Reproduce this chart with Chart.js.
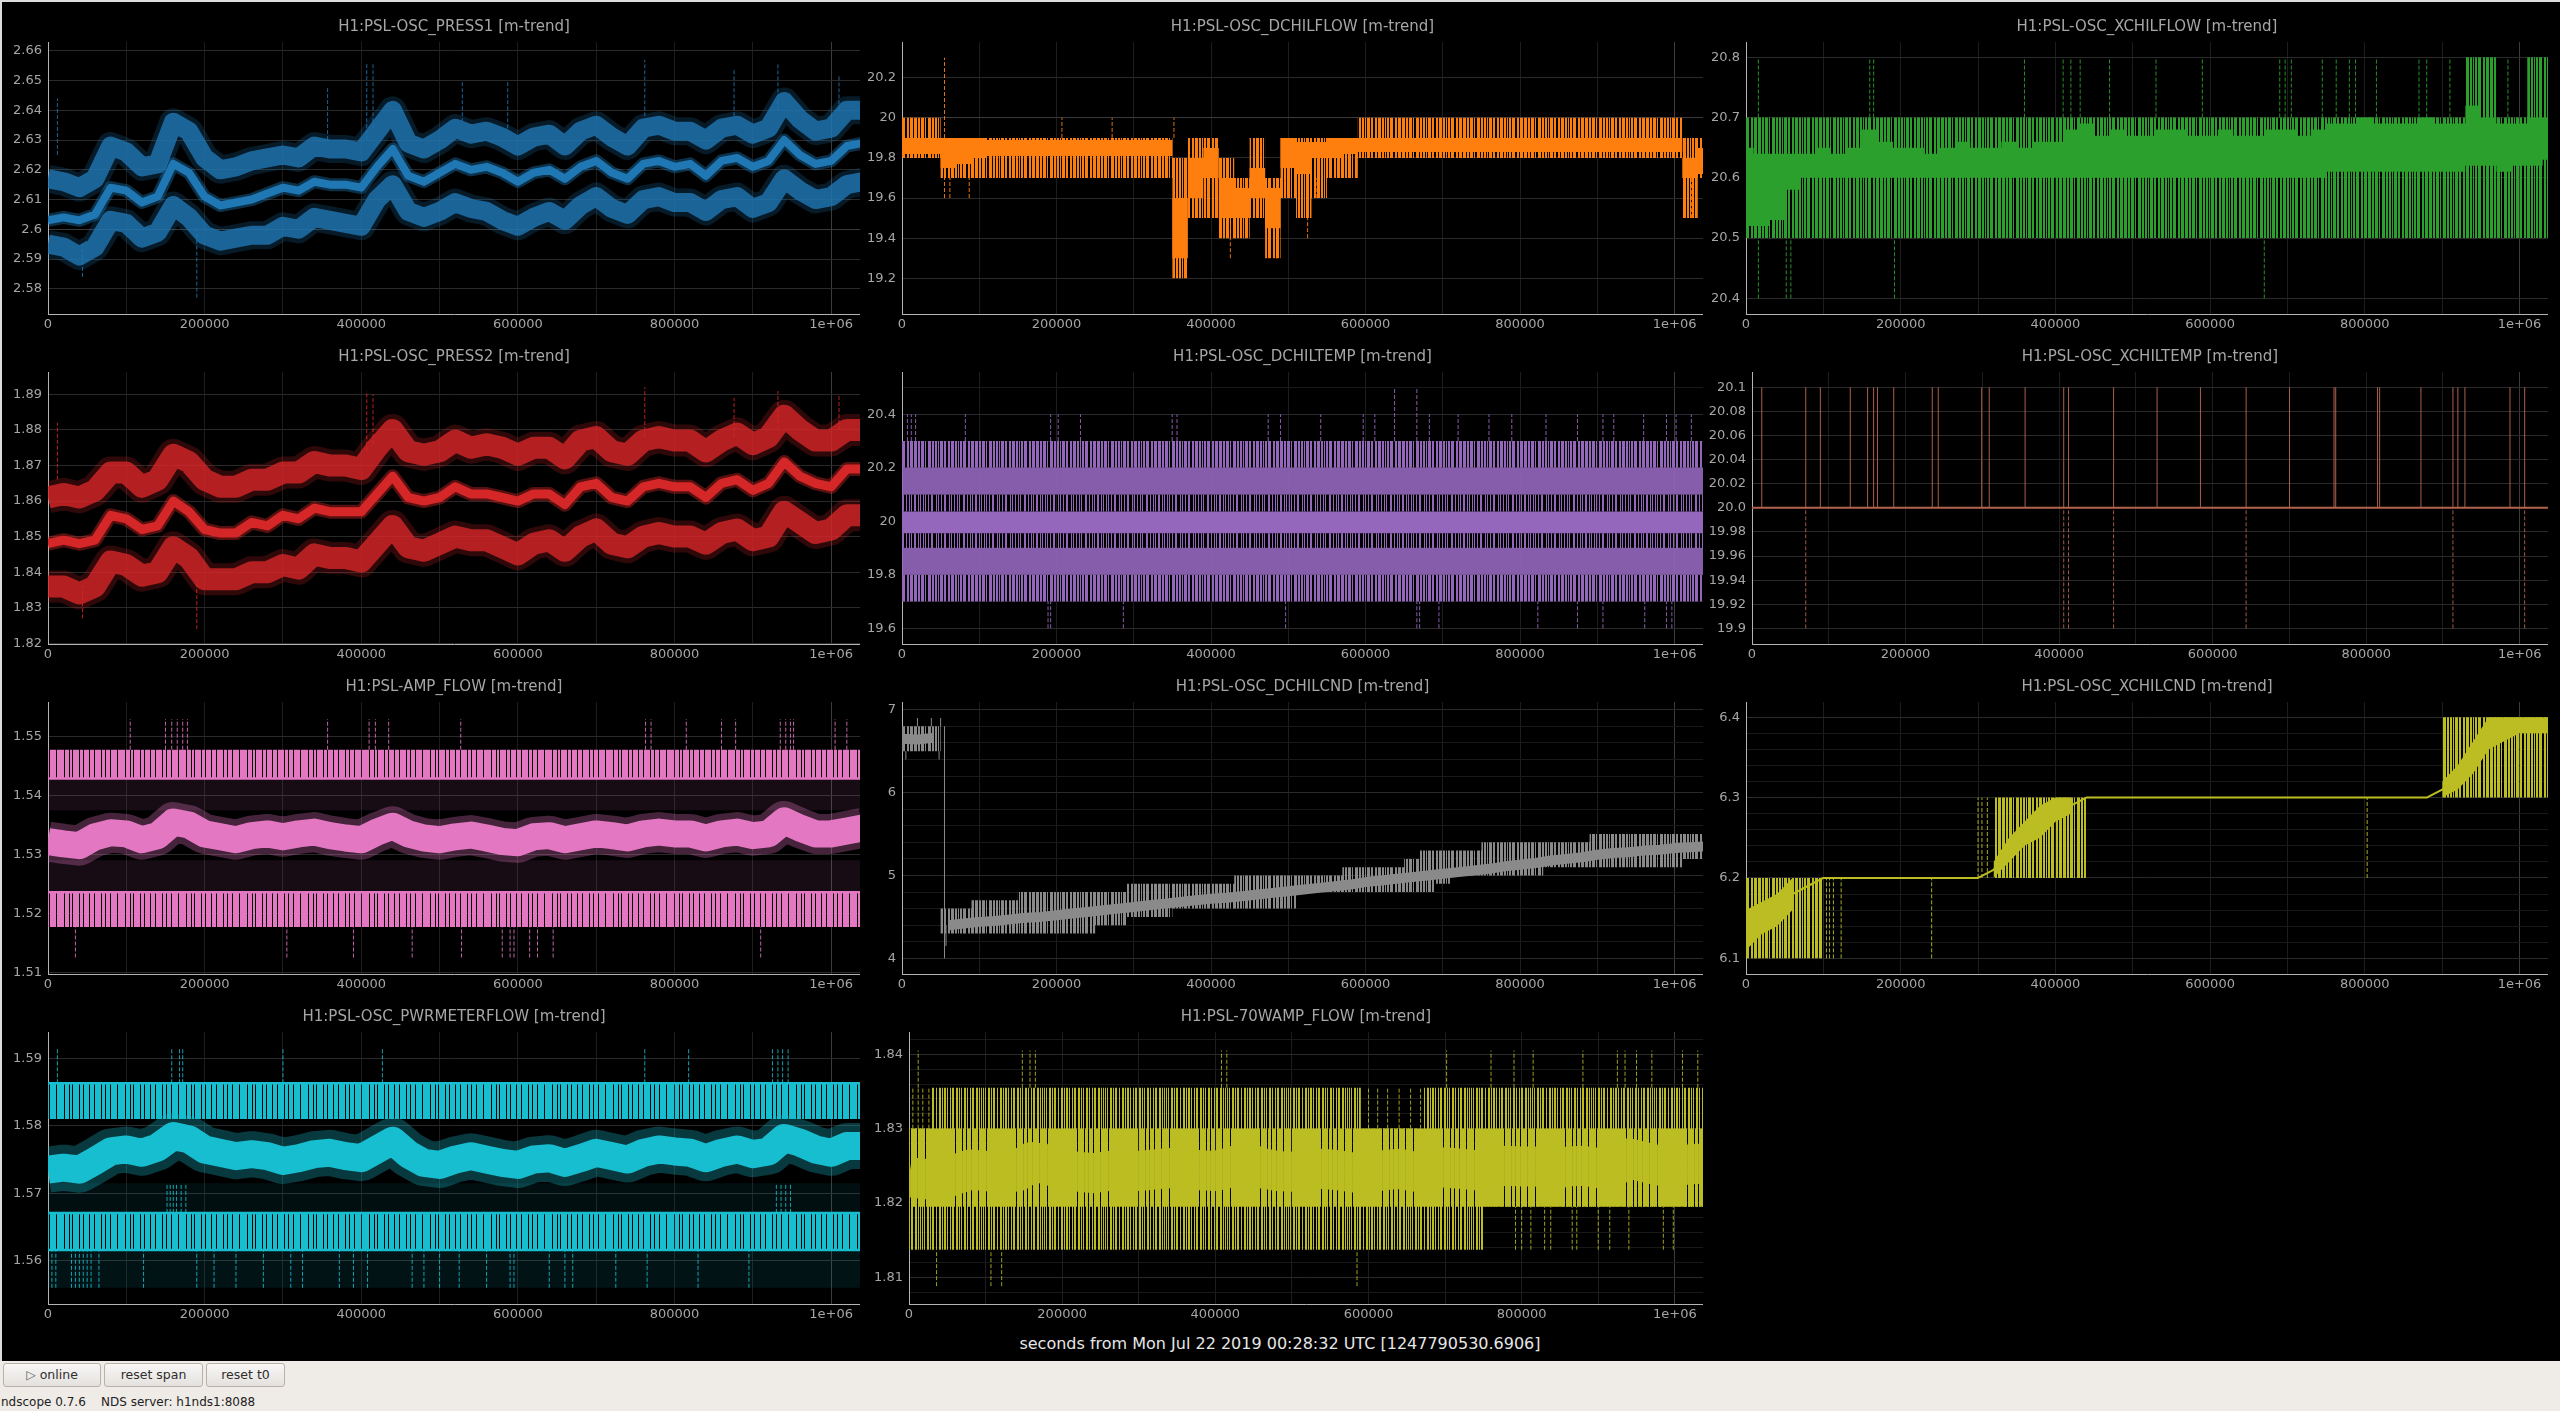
<!DOCTYPE html>
<html><head><meta charset="utf-8">
<script src="https://cdn.jsdelivr.net/npm/chart.js@4.4.1/dist/chart.umd.min.js"></script>
<style>
html,body{margin:0;padding:0;background:#000;width:2560px;height:1411px;overflow:hidden;position:relative;font-family:"DejaVu Sans",sans-serif}
canvas{position:absolute}
#frameTop{position:absolute;left:0;top:0;width:2560px;height:2px;background:#dcdcdc}
#frameLeft{position:absolute;left:0;top:0;width:2px;height:1361px;background:#dcdcdc}
#xlabel{position:absolute;left:0;width:2560px;top:1334px;text-align:center;color:#e6e6e6;font-size:16px;line-height:20px}
#toolbar{position:absolute;left:0;top:1361px;width:2560px;height:50px;background:#efebe7}
.btn{position:absolute;top:2px;height:24px;box-sizing:border-box;border:1px solid #b8b2ab;border-radius:3px;background:linear-gradient(#f8f7f6,#e4e1dd);font-size:12.5px;color:#2e2e2e;text-align:center;line-height:22px}
#status{position:absolute;left:1px;top:34px;font-size:12px;line-height:14px;color:#222;white-space:pre}
</style></head>
<body>
<div id="frameTop"></div><div id="frameLeft"></div>
<div id="xlabel">seconds from Mon Jul 22 2019 00:28:32 UTC [1247790530.6906]</div>
<div id="toolbar">
  <div class="btn" style="left:3px;width:98px"><span style="color:#666">&#9655;</span> online</div>
  <div class="btn" style="left:104px;width:99px">reset span</div>
  <div class="btn" style="left:206px;width:79px">reset t0</div>
  <div id="status">ndscope 0.7.6    NDS server: h1nds1:8088</div>
</div>
<script>
// ---------------- time axes ----------------
const tBins = [0,20000,40000,60000,80000,100000,120000,140000,160000,180000,
  200000,220000,240000,260000,280000,300000,320000,340000,360000,380000,
  400000,420000,440000,460000,480000,500000,520000,540000,560000,580000,
  600000,620000,640000,660000,680000,700000,720000,740000,760000,780000,
  800000,820000,840000,860000,880000,900000,920000,940000,960000,980000,
  1000000,1020000,1040000];
const tEnds = [0, 1040000];
const xTickValues = [0,100000,200000,300000,400000,500000,600000,700000,800000,900000,1000000];
const xTickLabels = ['0','','200000','','400000','','600000','','800000','','1e+06'];

// ---------------- PSL-OSC_PRESS1 ----------------
const press1Mean = [2.603,2.604,2.603,2.605,2.614,2.613,2.609,2.611,2.622,2.619,
  2.611,2.608,2.609,2.610,2.612,2.614,2.613,2.616,2.615,2.615,
  2.614,2.621,2.627,2.618,2.616,2.619,2.622,2.620,2.621,2.619,
  2.616,2.619,2.620,2.617,2.621,2.623,2.619,2.617,2.622,2.623,
  2.621,2.622,2.618,2.623,2.624,2.621,2.623,2.630,2.625,2.622,
  2.623,2.628,2.629];
const press1Max = [2.617,2.616,2.614,2.617,2.628,2.626,2.621,2.622,2.636,2.633,
  2.624,2.620,2.621,2.623,2.624,2.625,2.624,2.628,2.627,2.627,
  2.626,2.633,2.640,2.629,2.627,2.630,2.634,2.632,2.633,2.631,
  2.628,2.631,2.632,2.628,2.633,2.635,2.631,2.628,2.634,2.635,
  2.633,2.633,2.630,2.634,2.635,2.632,2.634,2.643,2.637,2.633,
  2.634,2.640,2.640];
const press1Min = [2.595,2.594,2.591,2.594,2.603,2.602,2.597,2.599,2.608,2.604,
  2.598,2.596,2.597,2.598,2.598,2.601,2.600,2.604,2.603,2.602,
  2.601,2.610,2.615,2.606,2.604,2.606,2.609,2.607,2.606,2.603,
  2.601,2.604,2.606,2.603,2.608,2.611,2.607,2.605,2.610,2.611,
  2.609,2.609,2.606,2.610,2.611,2.607,2.609,2.617,2.613,2.610,
  2.611,2.615,2.616];
const press1Spikes = [[12000,2.625,2.644],[44000,2.584,2.595],[190000,2.577,2.600],[357000,2.630,2.648],
  [407000,2.630,2.656],[415000,2.634,2.656],[529000,2.636,2.650],[587000,2.634,2.650],
  [762000,2.638,2.657],[876000,2.638,2.654],[932000,2.640,2.656],[1010000,2.640,2.652]];
const press1YTicks = [2.58,2.59,2.6,2.61,2.62,2.63,2.64,2.65,2.66];
const press1YLabels = ['2.58','2.59','2.6','2.61','2.62','2.63','2.64','2.65','2.66'];

// ---------------- PSL-OSC_PRESS2 ----------------
const press2Mean = [1.848,1.849,1.848,1.849,1.856,1.855,1.852,1.853,1.860,1.857,
  1.852,1.851,1.851,1.854,1.853,1.856,1.855,1.858,1.857,1.857,
  1.857,1.862,1.867,1.861,1.860,1.861,1.864,1.862,1.862,1.861,
  1.860,1.862,1.862,1.859,1.864,1.865,1.861,1.860,1.864,1.865,
  1.864,1.864,1.861,1.865,1.866,1.863,1.865,1.871,1.867,1.865,
  1.864,1.869,1.869];
const press2Max = [1.861,1.862,1.861,1.863,1.868,1.868,1.864,1.866,1.873,1.871,
  1.866,1.864,1.864,1.866,1.866,1.868,1.868,1.871,1.870,1.870,
  1.869,1.875,1.880,1.874,1.873,1.874,1.877,1.875,1.876,1.875,
  1.873,1.875,1.875,1.872,1.877,1.878,1.874,1.873,1.877,1.878,
  1.877,1.877,1.874,1.877,1.879,1.876,1.878,1.884,1.880,1.877,
  1.877,1.880,1.880];
const press2Min = [1.836,1.836,1.834,1.836,1.843,1.842,1.839,1.840,1.847,1.844,
  1.838,1.838,1.838,1.840,1.840,1.842,1.841,1.845,1.844,1.844,
  1.843,1.848,1.853,1.847,1.846,1.848,1.850,1.849,1.849,1.847,
  1.845,1.848,1.849,1.846,1.850,1.852,1.848,1.847,1.850,1.851,
  1.850,1.850,1.848,1.851,1.852,1.849,1.850,1.857,1.854,1.851,
  1.852,1.856,1.856];
const press2Spikes = [[12000,1.866,1.882],[44000,1.827,1.836],[190000,1.824,1.838],[407000,1.874,1.891],
  [415000,1.876,1.890],[762000,1.878,1.892],[876000,1.878,1.889],[932000,1.880,1.891],[1010000,1.880,1.890]];
const press2YTicks = [1.82,1.83,1.84,1.85,1.86,1.87,1.88,1.89];
const press2YLabels = ['1.82','1.83','1.84','1.85','1.86','1.87','1.88','1.89'];

// ---------------- PSL-OSC_DCHILFLOW ----------------
const dflOuterLo = [19.8,19.8,19.8,19.7,19.7,19.7,19.7,19.7,19.7,19.7,
  19.7,19.7,19.7,19.7,19.7,19.7,19.7,19.7,19.2,19.5,
  19.5,19.4,19.4,19.5,19.3,19.6,19.5,19.6,19.7,19.7,
  19.8,19.8,19.8,19.8,19.8,19.8,19.8,19.8,19.8,19.8,
  19.8,19.8,19.8,19.8,19.8,19.8,19.8,19.8,19.8,19.8,
  19.8,19.5,19.7];
const dflOuterHi = [20,20,20,19.9,19.9,19.9,19.9,19.9,19.9,19.9,
  19.9,19.9,19.9,19.9,19.9,19.9,19.9,19.9,19.8,19.9,
  19.9,19.8,19.7,19.9,19.7,19.9,19.9,19.9,19.9,19.9,
  20,20,20,20,20,20,20,20,20,20,
  20,20,20,20,20,20,20,20,20,20,
  20,19.9,19.9];
const dflCoreLo = [19.82,19.82,19.82,19.75,19.77,19.8,19.81,19.81,19.81,19.81,
  19.81,19.81,19.81,19.81,19.81,19.81,19.81,19.81,19.3,19.6,
  19.7,19.5,19.5,19.6,19.45,19.75,19.72,19.8,19.8,19.82,
  19.83,19.83,19.83,19.83,19.83,19.83,19.83,19.83,19.83,19.83,
  19.83,19.83,19.83,19.83,19.83,19.83,19.83,19.83,19.83,19.83,
  19.83,19.7,19.72];
const dflCoreHi = [19.9,19.9,19.9,19.9,19.9,19.9,19.89,19.89,19.89,19.89,
  19.89,19.89,19.89,19.89,19.89,19.89,19.89,19.89,19.6,19.8,
  19.85,19.7,19.65,19.75,19.65,19.9,19.88,19.88,19.9,19.9,
  19.9,19.9,19.9,19.9,19.9,19.9,19.9,19.9,19.9,19.9,
  19.9,19.9,19.9,19.9,19.9,19.9,19.9,19.9,19.9,19.9,
  19.9,19.8,19.85];
const dflSpikes = [[55000,19.6,20.3],[62000,19.6,19.7],[87000,19.6,19.7],[207000,19.9,20.0],[272000,19.9,20.0],
  [352000,19.9,20.0],[425000,19.3,19.45],[485000,19.3,19.4],[525000,19.4,19.5],[537000,19.6,19.7],
  [1017000,19.5,19.7],[1022000,19.5,19.7]];
const dflYTicks = [19.2,19.4,19.6,19.8,20,20.2];
const dflYLabels = ['19.2','19.4','19.6','19.8','20','20.2'];

// ---------------- PSL-OSC_XCHILFLOW ----------------
const xflOuterLo = [20.5,20.5,20.5,20.5,20.5,20.5,20.5,20.5,20.5,20.5,
  20.5,20.5,20.5,20.5,20.5,20.5,20.5,20.5,20.5,20.5,
  20.5,20.5,20.5,20.5,20.5,20.5,20.5,20.5,20.5,20.5,
  20.5,20.5,20.5,20.5,20.5,20.5,20.5,20.5,20.5,20.5,
  20.5,20.5,20.5,20.5,20.5,20.5,20.5,20.5,20.5,20.5,
  20.5,20.5,20.5];
const xflOuterHi = [20.7,20.7,20.7,20.7,20.7,20.7,20.7,20.7,20.7,20.7,
  20.7,20.7,20.7,20.7,20.7,20.7,20.7,20.7,20.7,20.7,
  20.7,20.7,20.7,20.7,20.7,20.7,20.7,20.7,20.7,20.7,
  20.7,20.7,20.7,20.7,20.7,20.7,20.7,20.7,20.7,20.7,
  20.7,20.7,20.7,20.7,20.7,20.7,20.7,20.8,20.8,20.7,
  20.7,20.8,20.8];
const xflCoreLo = [20.52,20.52,20.53,20.58,20.6,20.6,20.6,20.6,20.6,20.6,
  20.6,20.6,20.6,20.6,20.6,20.6,20.6,20.6,20.6,20.6,
  20.6,20.6,20.6,20.6,20.6,20.6,20.6,20.6,20.6,20.6,
  20.6,20.6,20.6,20.6,20.6,20.6,20.6,20.6,20.61,20.61,
  20.61,20.61,20.61,20.61,20.61,20.61,20.61,20.62,20.62,20.61,
  20.62,20.62,20.63];
const xflCoreHi = [20.65,20.64,20.64,20.64,20.64,20.65,20.64,20.65,20.68,20.66,
  20.65,20.65,20.64,20.65,20.66,20.65,20.65,20.66,20.65,20.66,
  20.66,20.68,20.69,20.67,20.68,20.67,20.67,20.68,20.68,20.67,
  20.67,20.68,20.67,20.67,20.68,20.68,20.67,20.68,20.69,20.69,
  20.7,20.69,20.69,20.69,20.7,20.69,20.69,20.72,20.7,20.69,
  20.69,20.7,20.7];
const xflSpikeUpX = [16000,160000,165000,360000,410000,420000,432000,470000,530000,590000,690000,697000,705000,
  745000,763000,780000,788000,815000,870000,880000,910000,985000];
const xflSpikeUpRange = [20.7, 20.8];
const xflSpikeDownX = [16000,52000,58000,192000,670000];
const xflSpikeDownRange = [20.4, 20.5];
const xflYTicks = [20.4,20.5,20.6,20.7,20.8];
const xflYLabels = ['20.4','20.5','20.6','20.7','20.8'];

// ---------------- PSL-OSC_DCHILTEMP ----------------
const dtempStripes = [[19.7,19.8],[19.8,19.9],[19.9,19.955],[19.955,20.036],[20.036,20.1],[20.1,20.2],[20.2,20.3]];
const dtempSpikeUpX = [7000,12000,17600,82000,192400,202200,231000,349700,356000,474000,490000,542000,597000,612000,
  682600,719800,759800,789300,833600,874300,907300,921300,960000,989500,1002000,1021700];
const dtempSpikeUpRange = [20.3, 20.4];
const dtempSpikeTallX = [637600, 666400];
const dtempSpikeTallRange = [20.3, 20.5];
const dtempSpikeDownX = [189000,192400,286500,496500,666400,670000,695000,823000,874300,907300,961400,989500,996500];
const dtempSpikeDownRange = [19.6, 19.7];
const dtempYTicks = [19.6,19.8,20,20.2,20.4];
const dtempYLabels = ['19.6','19.8','20','20.2','20.4'];
const dtempYMinor = [19.7,19.9,20.1,20.3,20.5];

// ---------------- PSL-OSC_XCHILTEMP ----------------
const xtempLevel = [20.0, 20.0];
const xtempSpikeUpX = [12700,70000,89000,128000,150600,158400,163400,184600,234800,242600,299200,309000,355700,
  406000,412300,471000,527600,584100,643600,700100,758100,760300,814700,817500,871300,913000,919400,928600,
  987300,1006400];
const xtempSpikeUpRange = [20.0, 20.1];
const xtempSpikeDownX = [70000,406000,412300,471000,643600,913000,1006400];
const xtempSpikeDownRange = [19.9, 20.0];
const xtempYTicks = [19.9,19.92,19.94,19.96,19.98,20.0,20.02,20.04,20.06,20.08,20.1];
const xtempYLabels = ['19.9','19.92','19.94','19.96','19.98','20.0','20.02','20.04','20.06','20.08','20.1'];

// ---------------- PSL-AMP_FLOW ----------------
const ampMean = [1.5322,1.5318,1.5315,1.533,1.5337,1.5335,1.5325,1.5332,1.5355,1.535,
  1.5335,1.533,1.5325,1.5332,1.5335,1.533,1.5335,1.5338,1.5332,1.5328,
  1.5325,1.5338,1.5348,1.5335,1.5328,1.5325,1.533,1.5333,1.5328,1.5322,
  1.532,1.533,1.5332,1.5325,1.533,1.5335,1.5332,1.5328,1.5335,1.5338,
  1.5335,1.5335,1.5328,1.5335,1.5338,1.5332,1.5335,1.5357,1.5345,1.5335,
  1.5335,1.534,1.5345];
const ampStripes = [[1.5177,1.5236],[1.5236,1.529],[1.5375,1.5429],[1.5429,1.5478]];
const ampEdges = [1.5236, 1.5429];
const ampSpikeUpX = [105000,150000,158000,165000,172000,178000,357000,410000,418000,435000,527000,763000,770000,
  815000,860000,878000,935000,942000,948000,952000,1005000,1020000];
const ampSpikeUpRange = [1.5478, 1.553];
const ampSpikeDownX = [35000,305000,390000,465000,528000,580000,590000,595000,615000,625000,645000,910000];
const ampSpikeDownRange = [1.5125, 1.5177];
const ampYTicks = [1.51,1.52,1.53,1.54,1.55];
const ampYLabels = ['1.51','1.52','1.53','1.54','1.55'];

// ---------------- PSL-OSC_DCHILCND ----------------
const dcndMean = [6.65,6.64,6.66,4.40,4.42,4.44,4.45,4.47,4.49,4.50,
  4.52,4.54,4.56,4.58,4.60,4.62,4.64,4.66,4.68,4.70,
  4.72,4.73,4.75,4.77,4.79,4.81,4.83,4.85,4.87,4.89,
  4.92,4.94,4.96,4.98,5.00,5.02,5.04,5.06,5.08,5.11,
  5.13,5.15,5.18,5.20,5.22,5.25,5.27,5.28,5.30,5.31,
  5.33,5.34,5.35];
const dcndOuterLo = [6.5,6.5,6.5,4.3,4.3,4.3,4.3,4.3,4.3,4.3,
  4.3,4.3,4.3,4.4,4.4,4.5,4.5,4.5,4.6,4.6,
  4.6,4.6,4.6,4.6,4.6,4.6,4.8,4.8,4.8,4.8,
  4.8,4.8,4.8,4.8,4.8,4.9,5.0,5.0,5.0,5.0,
  5.0,5.0,5.1,5.1,5.1,5.1,5.1,5.1,5.1,5.1,
  5.1,5.2,5.2];
const dcndOuterHi = [6.8,6.8,6.8,4.6,4.6,4.7,4.7,4.7,4.8,4.8,
  4.8,4.8,4.8,4.8,4.8,4.9,4.9,4.9,4.9,4.9,
  4.9,4.9,5.0,5.0,5.0,5.0,5.0,5.0,5.0,5.1,
  5.1,5.1,5.1,5.2,5.3,5.3,5.3,5.3,5.4,5.4,
  5.4,5.4,5.4,5.4,5.4,5.5,5.5,5.5,5.5,5.5,
  5.5,5.5,5.5];
const dcndSpikes = [[5000,6.4,6.5],[20000,6.8,6.9],[38000,6.8,6.9],[48000,6.4,6.5],[50000,6.8,6.9],[55000,4.0,6.8],[57000,4.15,4.4]];
const dcndYTicks = [4,5,6,7];
const dcndYLabels = ['4','5','6','7'];
const dcndYMinor = [4.2,4.4,4.6,4.8,5.2,5.4,5.6,5.8,6.2,6.4,6.6,6.8];

// ---------------- PSL-OSC_XCHILCND ----------------
const xcMean = [6.135,6.15,6.16,6.18,6.19,6.2,6.2,6.2,6.2,6.2,
  6.2,6.2,6.2,6.2,6.2,6.2,6.21,6.235,6.255,6.27,
  6.285,6.29,6.3,6.3,6.3,6.3,6.3,6.3,6.3,6.3,
  6.3,6.3,6.3,6.3,6.3,6.3,6.3,6.3,6.3,6.3,
  6.3,6.3,6.3,6.3,6.3,6.31,6.325,6.35,6.38,6.39,
  6.39,6.395,6.395];
const xcOuterLo = [6.1,6.1,6.1,6.1,6.1,6.1,null,null,null,null,
  null,null,null,null,null,null,6.2,6.2,6.2,6.2,
  6.2,6.2,6.2,null,null,null,null,null,null,null,
  null,null,null,null,null,null,null,null,null,null,
  null,null,null,null,null,6.3,6.3,6.3,6.3,6.3,
  6.3,6.3,6.3];
const xcOuterHi = [6.2,6.2,6.2,6.2,6.2,6.2,null,null,null,null,
  null,null,null,null,null,null,6.3,6.3,6.3,6.3,
  6.3,6.3,6.3,null,null,null,null,null,null,null,
  null,null,null,null,null,null,null,null,null,null,
  null,null,null,null,null,6.4,6.4,6.4,6.4,6.4,
  6.4,6.4,6.4];
const xcCoreLo = [6.11,6.13,6.14,6.16,null,null,null,null,null,null,
  null,null,null,null,null,null,6.2,6.22,6.24,6.25,
  6.27,6.28,null,null,null,null,null,null,null,null,
  null,null,null,null,null,null,null,null,null,null,
  null,null,null,null,null,6.3,6.31,6.33,6.36,6.37,
  6.38,6.38,6.38];
const xcCoreHi = [6.16,6.17,6.18,6.2,null,null,null,null,null,null,
  null,null,null,null,null,null,6.22,6.25,6.27,6.29,
  6.3,6.3,null,null,null,null,null,null,null,null,
  null,null,null,null,null,null,null,null,null,null,
  null,null,null,null,null,6.32,6.34,6.37,6.4,6.4,
  6.4,6.4,6.4];
const xcSpikeLowX = [12000,104000,108000,113000,123000,240000];
const xcSpikeLowRange = [6.1, 6.2];
const xcSpikeMidX = [300000,305000,312000,438000,803000];
const xcSpikeMidRange = [6.2, 6.3];
const xcYTicks = [6.1,6.2,6.3,6.4];
const xcYLabels = ['6.1','6.2','6.3','6.4'];
const xcYMinor = [6.12,6.14,6.16,6.18,6.22,6.24,6.26,6.28,6.32,6.34,6.36,6.38];

// ---------------- PSL-OSC_PWRMETERFLOW ----------------
const pwrMean = [1.5735,1.5738,1.5735,1.5748,1.5762,1.5765,1.576,1.5768,1.5785,1.578,
  1.5765,1.576,1.5755,1.5758,1.5755,1.5748,1.5752,1.5758,1.576,1.5755,
  1.5752,1.5765,1.5778,1.5758,1.5745,1.5742,1.575,1.5755,1.575,1.5745,
  1.5742,1.575,1.5752,1.5745,1.5752,1.576,1.5755,1.575,1.576,1.5765,
  1.5762,1.576,1.5752,1.576,1.5765,1.5758,1.5762,1.5782,1.5775,1.5765,
  1.576,1.577,1.577];
const pwrStripes = [[1.556,1.5616],[1.5616,1.5671],[1.5671,1.5715],[1.581,1.5863]];
const pwrEdges = [1.5616, 1.5671, 1.5863];
const pwrSpikeUpX = [12000,158000,168000,172000,300000,427000,762000,818000,925000,932000,938000,945000];
const pwrSpikeUpRange = [1.5863, 1.5915];
const pwrSpikeDownX = [5000,10000,30000,35000,40000,45000,50000,55000,65000,122000,190000,212000,240000,275000,
  310000,325000,372000,390000,408000,465000,480000,500000,525000,560000,590000,595000,640000,660000,670000,
  725000,765000,830000,895000];
const pwrSpikeDownRange = [1.556, 1.5616];
const pwrSpikeMidX = [152000,156000,160000,164000,170000,176000,930000,936000,942000,948000];
const pwrSpikeMidRange = [1.5671, 1.5715];
const pwrYTicks = [1.56,1.57,1.58,1.59];
const pwrYLabels = ['1.56','1.57','1.58','1.59'];

// ---------------- PSL-70WAMP_FLOW ----------------
const w70Mean = [1.8235,1.8232,1.823,1.8238,1.8245,1.8243,1.824,1.8242,1.8255,1.8252,
  1.8245,1.8242,1.824,1.8243,1.8244,1.8243,1.8245,1.8247,1.8246,1.8244,
  1.8243,1.8248,1.8255,1.8247,1.8243,1.8242,1.8245,1.8246,1.8244,1.8241,
  1.824,1.8244,1.8246,1.8242,1.8245,1.8248,1.8246,1.8244,1.8248,1.825,
  1.8249,1.8249,1.8245,1.8249,1.825,1.8247,1.8249,1.826,1.8255,1.825,
  1.8249,1.8252,1.8253];
const w70OuterHi = [1.83,1.83,1.8355,1.8355,1.8355,1.8355,1.8355,1.8355,1.8355,1.8355,
  1.8355,1.8355,1.8355,1.8355,1.8355,1.8355,1.8355,1.8355,1.8355,1.8355,
  1.8355,1.8355,1.8355,1.8355,1.8355,1.8355,1.8355,1.8355,1.8355,1.8355,
  1.83,1.83,1.83,1.83,1.8355,1.8355,1.8355,1.8355,1.8355,1.8355,
  1.8355,1.8355,1.8355,1.8355,1.8355,1.8355,1.8355,1.8355,1.8355,1.8355,
  1.8355,1.8355,1.8355];
const w70OuterLo = [1.8137,1.8137,1.8137,1.8137,1.8137,1.8137,1.8137,1.8137,1.8137,1.8137,
  1.8137,1.8137,1.8137,1.8137,1.8137,1.8137,1.8137,1.8137,1.8137,1.8137,
  1.8137,1.8137,1.8137,1.8137,1.8137,1.8137,1.8137,1.8137,1.8137,1.8137,
  1.8137,1.8137,1.8137,1.8137,1.8137,1.8137,1.8137,1.8137,1.8195,1.8195,
  1.8195,1.8195,1.8195,1.8195,1.8195,1.8195,1.8195,1.8195,1.8195,1.8195,
  1.8195,1.8195,1.8195];
const w70Stripes = [[1.8195,1.830]];
const w70SpikeUpX = [12000,148000,158000,165000,408000,415000,702000,760000,790000,815000,880000,925000,935000,950000,970000,1010000,1030000];
const w70SpikeUpRange = [1.8355, 1.8405];
const w70SpikeDownX = [36000,107000,121000,585000];
const w70SpikeDownRange = [1.8088, 1.8137];
const w70SparseLowX = [792000,800000,812000,830000,838000,866000,872000,900000,915000,940000,985000,998000];
const w70SparseLowRange = [1.8137, 1.8195];
const w70SparseHighX = [5000,12000,18000,26000,600000,612000,625000,640000,655000,668000];
const w70SparseHighRange = [1.830, 1.8355];
const w70YTicks = [1.81,1.82,1.83,1.84];
const w70YLabels = ['1.81','1.82','1.83','1.84'];
const w70YMinor = [1.808,1.812,1.814,1.816,1.818,1.822,1.824,1.826,1.828,1.832,1.834,1.836,1.838,1.842];

// ---------------- styling ----------------
const FONT = '"DejaVu Sans", "Liberation Sans", sans-serif';
const TEXT = '#a6a6a6', AXIS = '#b4b4b4';
const BLUE='#1f77b4', ORANGE='#ff7f0e', GREEN='#2ca02c', RED='#d62728', PURPLE='#9467bd',
      BROWN='#b5634e', PINK='#e377c2', GRAY='#8a8a8a', OLIVE='#bcbd22', CYAN='#17becf';
const XMAX = 1036800, YW = 48, TITLE_H = 42, CANVAS_H = 340, XAXIS_H = 26;
// irregular vertical hatch textures (1 = coloured pixel column, 0 = gap), imitating dense min/max trace lines
const H80 = '1110111101101111110111011111011110111111011101111011111101111';
const H65 = '1101101110100111011011010111011001101110110101101110011011101';
const H50 = '1010011010110010011010110100101100110101001101001011001101010';
const H40 = '1001010010100100110001010010011000101001001010001100100101001';

function rgba(hex, a){ const n = parseInt(hex.slice(1),16); return `rgba(${(n>>16)&255},${(n>>8)&255},${n&255},${a})`; }
function hatch(hex, pattern, alpha){
  const c = document.createElement('canvas'); c.width = pattern.length; c.height = 1;
  const g = c.getContext('2d'); g.fillStyle = rgba(hex, alpha===undefined?1:alpha);
  for (let i=0;i<pattern.length;i++) if (pattern[i]==='1') g.fillRect(i,0,1,1);
  return g.createPattern(c, 'repeat');
}
function xy(xs, ys){ return xs.map((x,i)=>({x:x, y:ys[i]})); }
function lineDs(xs, ys, color, width, alpha, extra){
  return Object.assign({type:'line', data:xy(xs,ys), borderColor:rgba(color,alpha), borderWidth:width,
    pointRadius:0, fill:false, tension:0, clip:0, borderJoinStyle:'round', spanGaps:false}, extra||{});
}
function bandDs(xs, lo, hi, fillStyle, stepped){
  const base = {type:'line', pointRadius:0, borderWidth:0, borderColor:'rgba(0,0,0,0)', clip:0, spanGaps:false,
    stepped: stepped ? 'middle' : false, tension:0};
  return [Object.assign({}, base, {data:xy(xs,lo), fill:false}),
          Object.assign({}, base, {data:xy(xs,hi), fill:'-1', backgroundColor:fillStyle})];
}
function stripeDs(stripes, fills){
  const out = [];
  stripes.forEach((s,i)=>{ out.push(...bandDs(tEnds, [s[0],s[0]], [s[1],s[1]], fills[i], false)); });
  return out;
}
function edgeDs(levels, color, width){ return levels.map(v=>lineDs(tEnds, [v,v], color, width, 1)); }
function spikeDs(triples, color, alpha, dash){
  const d = [];
  triples.slice().sort((a,b)=>a[0]-b[0]).forEach(([x,lo,hi])=>{ d.push({x:x,y:lo},{x:x,y:hi},{x:x,y:null}); });
  return {type:'line', data:d, borderColor:rgba(color,alpha), borderWidth:1, pointRadius:0, fill:false,
    clip:0, spanGaps:false, borderDash: dash===false ? [] : [4,2]};
}
function spikeSet(xs, range, color, alpha, dash){ return spikeDs(xs.map(x=>[x,range[0],range[1]]), color, alpha, dash); }

const panels = [
 {title:'H1:PSL-OSC_PRESS1 [m-trend]', left:48, right:860, top:42, yMin:2.5715, yMax:2.663,
  yTicks:press1YTicks, yLabels:press1YLabels, yBright:[2.6],
  build:()=>[
   lineDs(tBins, press1Max, BLUE, 28, 0.22), lineDs(tBins, press1Min, BLUE, 28, 0.22),
   lineDs(tBins, press1Max, BLUE, 19, 0.8), lineDs(tBins, press1Min, BLUE, 19, 0.8),
   spikeDs(press1Spikes, BLUE, 0.85),
   lineDs(tBins, press1Mean, BLUE, 13, 0.4), lineDs(tBins, press1Mean, BLUE, 8, 1)]},
 {title:'H1:PSL-OSC_DCHILFLOW [m-trend]', left:902, right:1703, top:42, yMin:19.022, yMax:20.378,
  yTicks:dflYTicks, yLabels:dflYLabels, yBright:[20],
  build:()=>[
   ...bandDs(tBins, dflOuterLo, dflOuterHi, hatch(ORANGE, H65), true),
   ...bandDs(tBins, dflCoreLo, dflCoreHi, rgba(ORANGE,1), true),
   spikeDs(dflSpikes, ORANGE, 0.9)]},
 {title:'H1:PSL-OSC_XCHILFLOW [m-trend]', left:1746, right:2548, top:42, yMin:20.374, yMax:20.8254,
  yTicks:xflYTicks, yLabels:xflYLabels,
  build:()=>[
   ...bandDs(tBins, xflOuterLo, xflOuterHi, hatch(GREEN, H65), true),
   ...bandDs(tBins, xflCoreLo, xflCoreHi, rgba(GREEN,1), true),
   spikeSet(xflSpikeUpX, xflSpikeUpRange, GREEN, 0.9), spikeSet(xflSpikeDownX, xflSpikeDownRange, GREEN, 0.9)]},
 {title:'H1:PSL-OSC_PRESS2 [m-trend]', left:48, right:860, top:372, yMin:1.8198, yMax:1.8963,
  yTicks:press2YTicks, yLabels:press2YLabels,
  build:()=>[
   lineDs(tBins, press2Max, RED, 32, 0.22), lineDs(tBins, press2Min, RED, 32, 0.22),
   lineDs(tBins, press2Max, RED, 22, 0.8), lineDs(tBins, press2Min, RED, 22, 0.8),
   spikeDs(press2Spikes, RED, 0.85),
   lineDs(tBins, press2Mean, RED, 14, 0.4), lineDs(tBins, press2Mean, RED, 9, 1)]},
 {title:'H1:PSL-OSC_DCHILTEMP [m-trend]', left:902, right:1703, top:372, yMin:19.541, yMax:20.558,
  yTicks:dtempYTicks, yLabels:dtempYLabels, yMinor:dtempYMinor, yBright:[20],
  build:()=>[
   ...stripeDs(dtempStripes, [hatch(PURPLE,H65), rgba(PURPLE,0.9), hatch(PURPLE,H40), rgba(PURPLE,1),
                              hatch(PURPLE,H40), rgba(PURPLE,0.9), hatch(PURPLE,H65)]),
   spikeSet(dtempSpikeUpX, dtempSpikeUpRange, PURPLE, 0.9), spikeSet(dtempSpikeTallX, dtempSpikeTallRange, PURPLE, 0.9),
   spikeSet(dtempSpikeDownX, dtempSpikeDownRange, PURPLE, 0.9)]},
 {title:'H1:PSL-OSC_XCHILTEMP [m-trend]', left:1752, right:2548, top:372, yMin:19.887, yMax:20.1127,
  yTicks:xtempYTicks, yLabels:xtempYLabels,
  build:()=>[
   spikeSet(xtempSpikeUpX, xtempSpikeUpRange, BROWN, 0.95, false),
   spikeSet(xtempSpikeDownX, xtempSpikeDownRange, BROWN, 0.9),
   lineDs(tEnds, xtempLevel, BROWN, 2, 1)]},
 {title:'H1:PSL-AMP_FLOW [m-trend]', left:48, right:860, top:702, yMin:1.5097, yMax:1.5559,
  yTicks:ampYTicks, yLabels:ampYLabels,
  build:()=>[
   ...stripeDs(ampStripes, [hatch(PINK,H80), rgba(PINK,0.1), rgba(PINK,0.1), hatch(PINK,H80)]),
   ...edgeDs(ampEdges, PINK, 2.5),
   spikeSet(ampSpikeUpX, ampSpikeUpRange, PINK, 0.85), spikeSet(ampSpikeDownX, ampSpikeDownRange, PINK, 0.85),
   lineDs(tBins, ampMean, PINK, 40, 0.3), lineDs(tBins, ampMean, PINK, 27, 1)]},
 {title:'H1:PSL-OSC_DCHILCND [m-trend]', left:902, right:1703, top:702, yMin:3.811, yMax:7.093,
  yTicks:dcndYTicks, yLabels:dcndYLabels, yMinor:dcndYMinor,
  build:()=>[
   ...bandDs(tBins, dcndOuterLo, dcndOuterHi, hatch(GRAY, H65), true),
   spikeDs(dcndSpikes, GRAY, 1, false),
   lineDs(tBins.slice(0,3), dcndMean.slice(0,3), GRAY, 10, 1),
   lineDs(tBins.slice(3), dcndMean.slice(3), GRAY, 10, 1)]},
 {title:'H1:PSL-OSC_XCHILCND [m-trend]', left:1746, right:2548, top:702, yMin:6.0805, yMax:6.419,
  yTicks:xcYTicks, yLabels:xcYLabels, yMinor:xcYMinor,
  build:()=>[
   ...bandDs(tBins, xcOuterLo, xcOuterHi, hatch(OLIVE, H65), true),
   ...bandDs(tBins, xcCoreLo, xcCoreHi, rgba(OLIVE,1), false),
   spikeSet(xcSpikeLowX, xcSpikeLowRange, OLIVE, 0.9), spikeSet(xcSpikeMidX, xcSpikeMidRange, OLIVE, 0.9),
   lineDs(tBins, xcMean, OLIVE, 2, 1)]},
 {title:'H1:PSL-OSC_PWRMETERFLOW [m-trend]', left:48, right:860, top:1032, yMin:1.5536, yMax:1.5939,
  yTicks:pwrYTicks, yLabels:pwrYLabels,
  build:()=>[
   ...stripeDs(pwrStripes, [rgba(CYAN,0.1), hatch(CYAN,H80), rgba(CYAN,0.08), hatch(CYAN,H80)]),
   ...edgeDs(pwrEdges, CYAN, 2.5),
   spikeSet(pwrSpikeUpX, pwrSpikeUpRange, CYAN, 0.85), spikeSet(pwrSpikeDownX, pwrSpikeDownRange, CYAN, 0.85),
   spikeSet(pwrSpikeMidX, pwrSpikeMidRange, CYAN, 0.85),
   lineDs(tBins, pwrMean, CYAN, 46, 0.3), lineDs(tBins, pwrMean, CYAN, 28, 1)]},
 {title:'H1:PSL-70WAMP_FLOW [m-trend]', left:909, right:1703, top:1032, yMin:1.8064, yMax:1.843,
  yTicks:w70YTicks, yLabels:w70YLabels, yMinor:w70YMinor,
  build:()=>[
   ...bandDs(tBins, w70OuterLo, w70OuterHi, hatch(OLIVE, H50), true),
   ...stripeDs(w70Stripes, [hatch(OLIVE, H80)]),
   spikeSet(w70SpikeUpX, w70SpikeUpRange, OLIVE, 0.85), spikeSet(w70SpikeDownX, w70SpikeDownRange, OLIVE, 0.85),
   spikeSet(w70SparseLowX, w70SparseLowRange, OLIVE, 0.85), spikeSet(w70SparseHighX, w70SparseHighRange, OLIVE, 0.85),
   lineDs(tBins, w70Mean, OLIVE, 40, 0.95)]}
];

function gridColorY(tick){
  if (!tick) return '#222';
  if (tick.kind === 'bright') return '#3a3a3a';
  if (tick.kind === 'minor') return '#191919';
  return '#2a2a2a';
}
function gridColorX(tick){
  if (!tick) return '#1c1c1c';
  if (tick.value === 1000000) return '#3c3c3c';
  return '#1d1d1d';
}

panels.forEach(p=>{
  const cv = document.createElement('canvas');
  const W = (p.right - p.left) + YW;
  cv.width = W; cv.height = CANVAS_H;
  cv.style.left = (p.left - YW) + 'px';
  cv.style.top = (p.top - TITLE_H) + 'px';
  cv.style.width = W + 'px'; cv.style.height = CANVAS_H + 'px';
  document.body.appendChild(cv);
  const ds = p.build();
  ds.forEach((d,k)=>{ d.order = ds.length - k; });
  const yT = p.yTicks.map((v,i)=>({value:v, lab:p.yLabels[i], kind:(p.yBright||[]).includes(v)?'bright':'major'}))
    .concat((p.yMinor||[]).map(v=>({value:v, lab:'', kind:'minor'})))
    .sort((a,b)=>a.value-b.value);
  new Chart(cv, {
    type:'line',
    data:{datasets:ds},
    options:{
      responsive:false, animation:false, devicePixelRatio:1, events:[],
      layout:{padding:0},
      plugins:{
        legend:{display:false}, tooltip:{enabled:false},
        title:{display:true, text:p.title, fullSize:false, color:TEXT,
          font:{family:FONT, size:15, weight:'normal', lineHeight:1.2}, padding:{top:18, bottom:6}}
      },
      scales:{
        x:{type:'linear', min:0, max:XMAX, bounds:'data', offset:false,
          afterBuildTicks:s=>{ s.ticks = xTickValues.map((v,i)=>({value:v, lab:xTickLabels[i]})); },
          afterFit:s=>{ s.height = XAXIS_H; },
          ticks:{autoSkip:false, maxRotation:0, minRotation:0, padding:3, color:TEXT,
            font:{family:FONT, size:13}, callback:(v,i,t)=>(t[i] && t[i].lab) || ''},
          grid:{drawTicks:false, lineWidth:1, color:c=>gridColorX(c.tick)},
          border:{display:true, color:AXIS, width:1}},
        y:{type:'linear', min:p.yMin, max:p.yMax, bounds:'data',
          afterBuildTicks:s=>{ s.ticks = yT.map(t=>Object.assign({}, t)); },
          afterFit:s=>{ s.width = YW; },
          ticks:{autoSkip:false, padding:6, color:TEXT, font:{family:FONT, size:13},
            callback:(v,i,t)=>(t[i] && t[i].lab) || ''},
          grid:{drawTicks:false, lineWidth:1, color:c=>gridColorY(c.tick)},
          border:{display:true, color:AXIS, width:1}}
      }
    }
  });
});
</script>
</body></html>
